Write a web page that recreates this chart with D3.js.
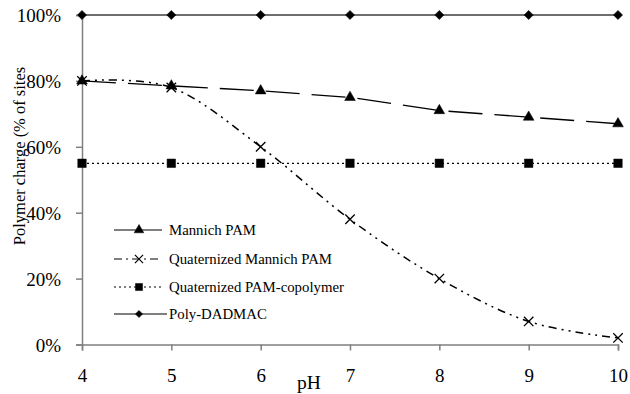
<!DOCTYPE html>
<html>
<head>
<meta charset="utf-8">
<script src="https://cdn.jsdelivr.net/npm/d3@7/dist/d3.min.js"></script>
<style>
  html, body { margin: 0; padding: 0; background: #fff; }
  text { font-family: "Liberation Serif", "Times New Roman", serif; fill: #000; }
</style>
</head>
<body>
<svg id="chart" width="630" height="394"></svg>
<script>
// pH values on the x axis
const phValues = [4, 5, 6, 7, 8, 9, 10];
const xTicks = [4, 5, 6, 7, 8, 9, 10];
const yTicks = [0, 20, 40, 60, 80, 100];

// Polymer charge, % of sites
const mannichPAM = [80, 78.5, 77, 75, 71, 69, 67];
const quatMannichPAM = [80, 78, 60, 38, 20, 7, 2];
const quatPAMCopolymer = [55, 55, 55, 55, 55, 55, 55];
const polyDADMAC = [100, 100, 100, 100, 100, 100, 100];

const seriesNames = ["Mannich PAM", "Quaternized Mannich PAM", "Quaternized PAM-copolymer", "Poly-DADMAC"];

const svg = d3.select("#chart");
const plotLeft = 82, plotRight = 618, plotTop = 15, plotBottom = 344.5;

const x = d3.scaleLinear().domain([4, 10]).range([plotLeft, plotRight]);
const y = d3.scaleLinear().domain([0, 100]).range([plotBottom, plotTop]);

const axisColor = "#808080";

// Y axis
const yAxis = svg.append("g").attr("transform", `translate(${plotLeft},0)`)
  .call(d3.axisLeft(y).tickValues(yTicks).tickSize(6).tickPadding(15).tickFormat(d => d + "%"));
yAxis.attr("font-family", null).attr("font-size", null);
yAxis.select(".domain").attr("stroke", axisColor).attr("stroke-width", 1.5);
yAxis.selectAll(".tick line").attr("stroke", axisColor).attr("stroke-width", 1.5);
yAxis.selectAll(".tick text")
  .attr("font-size", 19)
  .attr("dy", "0.36em");

// X axis
const xAxis = svg.append("g").attr("transform", `translate(0,${plotBottom})`)
  .call(d3.axisBottom(x).tickValues(xTicks).tickSize(6).tickFormat(d3.format("d")));
xAxis.attr("font-family", null).attr("font-size", null);
xAxis.select(".domain").attr("stroke", axisColor).attr("stroke-width", 1.5);
xAxis.selectAll(".tick line").attr("stroke", axisColor).attr("stroke-width", 1.5);
xAxis.selectAll(".tick text")
  .attr("font-size", 19)
  .attr("y", 37).attr("dy", null);

// Axis titles
svg.append("text")
  .attr("font-size", 19.5)
  .attr("text-anchor", "middle")
  .attr("x", 309).attr("y", 389)
  .text("pH");
svg.append("text")
  .attr("font-size", 16.5)
  .attr("text-anchor", "middle")
  .attr("transform", "translate(25,156) rotate(-90)")
  .text("Polymer charge (% of sites");

// Marker shapes
const sym = {
  triangle: d3.symbol().type(d3.symbolTriangle).size(50),
  square: d3.symbol().type(d3.symbolSquare).size(72),
  diamond: d3.symbol().type(d3.symbolSquare).size(42),
  cross: d3.symbol().type(d3.symbolX).size(60)
};

function drawMarkers(g, vals, shape) {
  const isCross = shape === "cross";
  const rot = shape === "diamond" ? " rotate(45)" : "";
  g.selectAll(null).data(vals).enter().append("path")
    .attr("d", sym[shape])
    .attr("transform", (d, i) => `translate(${x(phValues[i])},${y(d)})${rot}`)
    .attr("fill", isCross ? "none" : "#000")
    .attr("stroke", "#000")
    .attr("stroke-width", isCross ? 1.3 : 0.5);
}

const plot = svg.append("g");

const lineStraight = d3.line().x((d, i) => x(phValues[i])).y(d => y(d));
const lineSmooth = d3.line().x((d, i) => x(phValues[i])).y(d => y(d)).curve(d3.curveCardinal.tension(0));

// Quaternized PAM-copolymer: dotted
plot.append("path").datum(quatPAMCopolymer).attr("d", lineStraight)
  .attr("fill", "none").attr("stroke", "#000").attr("stroke-width", 1.3).attr("stroke-dasharray", "2,3");
drawMarkers(plot, quatPAMCopolymer, "square");

// Mannich PAM: long dash
plot.append("path").datum(mannichPAM).attr("d", lineStraight)
  .attr("fill", "none").attr("stroke", "#000").attr("stroke-width", 1.3).attr("stroke-dasharray", "34,12");
drawMarkers(plot, mannichPAM, "triangle");

// Quaternized Mannich PAM: smoothed long dash-dot-dot
plot.append("path").datum(quatMannichPAM).attr("d", lineSmooth)
  .attr("fill", "none").attr("stroke", "#000").attr("stroke-width", 1.5).attr("stroke-dasharray", "8,5,2,5,2,5");
drawMarkers(plot, quatMannichPAM, "cross");

// Poly-DADMAC: solid grey
plot.append("path").datum(polyDADMAC).attr("d", lineStraight)
  .attr("fill", "none").attr("stroke", "#6e6e6e").attr("stroke-width", 2.2);
drawMarkers(plot, polyDADMAC, "diamond");

// Legend
const legendRows = [
  { name: seriesNames[0], shape: "triangle", dash: null, yPos: 230 },
  { name: seriesNames[1], shape: "cross", dash: "8,4,2,4", yPos: 259 },
  { name: seriesNames[2], shape: "square", dash: "2,3", yPos: 287 },
  { name: seriesNames[3], shape: "diamond", dash: null, yPos: 314 }
];
const legend = svg.append("g");
legendRows.forEach(r => {
  legend.append("line")
    .attr("x1", 114).attr("x2", r.shape === "diamond" ? 167 : 162)
    .attr("y1", r.yPos).attr("y2", r.yPos)
    .attr("stroke", "#000").attr("stroke-width", 1.2)
    .attr("stroke-dasharray", r.dash);
  const m = r.shape === "square" ? d3.symbol().type(d3.symbolSquare).size(50)
          : r.shape === "triangle" ? d3.symbol().type(d3.symbolTriangle).size(40)
          : r.shape === "diamond" ? d3.symbol().type(d3.symbolSquare).size(26)
          : d3.symbol().type(d3.symbolX).size(45);
  legend.append("path").attr("d", m)
    .attr("transform", `translate(139,${r.yPos})${r.shape === "diamond" ? " rotate(45)" : ""}`)
    .attr("fill", r.shape === "cross" ? "#fff" : "#000")
    .attr("stroke", "#000").attr("stroke-width", r.shape === "cross" ? 1.2 : 0.5);
  legend.append("text")
    .attr("font-size", 14.8)
    .attr("x", 169).attr("y", r.yPos + 5)
    .text(r.name);
});
</script>
</body>
</html>
